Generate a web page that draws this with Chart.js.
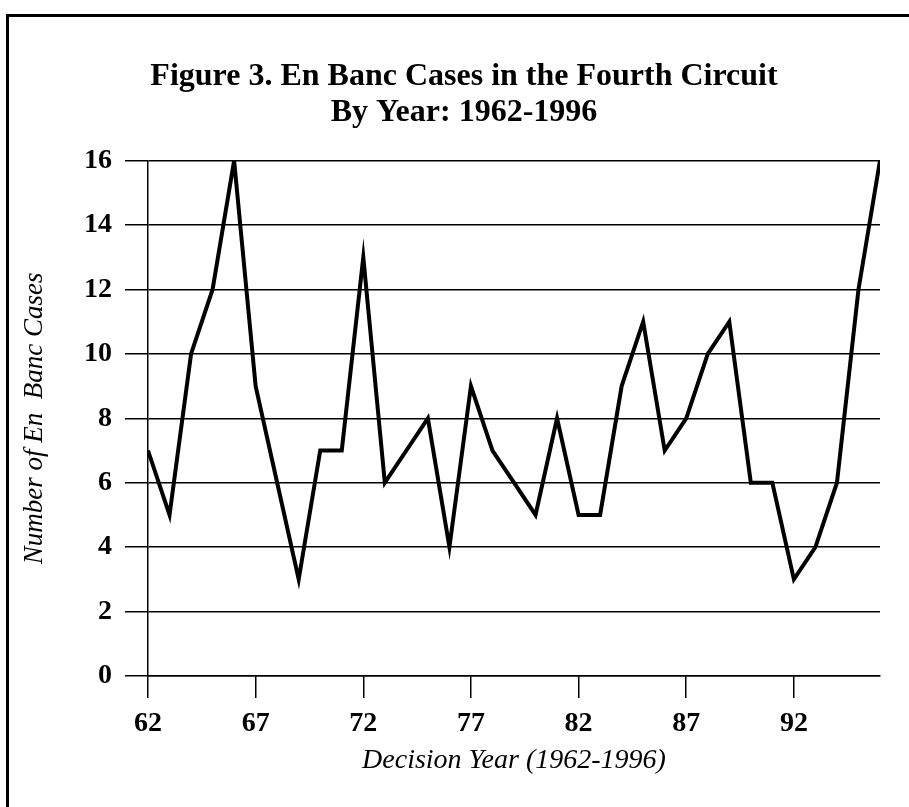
<!DOCTYPE html>
<html>
<head>
<title>En Banc Cases in the Fourth Circuit</title>
<script src="https://cdn.jsdelivr.net/npm/chart.js"></script>
<style>
  body { margin: 0; overflow: hidden; background: #fff; }
  #frame { position: absolute; left: 6px; top: 14px; width: 1000px; height: 1000px;
           border-left: 3px solid #000; border-top: 3px solid #000; }
  #wrap { position: absolute; left: 0; top: 0; width: 909px; height: 807px; }
</style>
</head>
<body>
<div id="frame"></div>
<div id="wrap"><canvas id="chart" width="909" height="807"></canvas></div>
<script>
// decision year (two digits) and number of en banc cases
const years = [62, 63, 64, 65, 66, 67, 68, 69, 70, 71, 72, 73, 74, 75, 76, 77, 78, 79,
               80, 81, 82, 83, 84, 85, 86, 87, 88, 89, 90, 91, 92, 93, 94, 95, 96];
const cases = [7, 5, 10, 12, 16, 9, 6, 3, 7, 7, 13, 6, 7, 8, 4, 9, 7, 6,
               5, 8, 5, 5, 9, 11, 7, 8, 10, 11, 6, 6, 3, 4, 6, 12, 16];
const xTickYears = [62, 67, 72, 77, 82, 87, 92];

const titleLines = ['Figure 3. En Banc Cases in the Fourth Circuit', 'By Year: 1962-1996'];
const xTitle = 'Decision Year (1962-1996)';
const yTitle = 'Number of En  Banc Cases';

const serif = "'Liberation Serif', 'Times New Roman', serif";
Chart.defaults.color = '#000';

// left padding pushes the centred title to the right; the y axis title
// is pulled back out with a negative offset
const padLeft = 48;

new Chart(document.getElementById('chart'), {
  type: 'line',
  data: {
    datasets: [{
      data: years.map((y, i) => ({ x: y, y: cases[i] })),
      borderColor: '#000',
      borderWidth: 4,
      pointRadius: 0,
      tension: 0,
      fill: false
    }]
  },
  options: {
    responsive: false,
    animation: false,
    layout: { padding: { left: padLeft, right: 29, top: 0, bottom: 0 } },
    plugins: {
      legend: { display: false },
      tooltip: { enabled: false },
      title: {
        display: true,
        text: titleLines,
        color: '#000',
        font: { family: serif, size: 32, weight: 'bold', lineHeight: 1.15 },
        padding: { top: 58, bottom: 29 }
      }
    },
    scales: {
      x: {
        type: 'linear',
        min: 62,
        max: 96,
        afterBuildTicks: s => { s.ticks = xTickYears.map(v => ({ value: v })); },
        afterFit: s => { s.height = 131; },
        ticks: {
          font: { family: serif, size: 28, weight: 'bold' },
          color: '#000',
          padding: 9,
          maxRotation: 0,
          callback: v => String(v)
        },
        grid: { drawOnChartArea: false, drawTicks: true, tickLength: 22, color: '#000', lineWidth: 1.5 },
        border: { display: true, color: '#000', width: 1.5 },
        title: {
          display: true,
          text: xTitle,
          color: '#000',
          font: { family: serif, size: 28, style: 'italic' },
          padding: { top: 0, bottom: 30 }
        }
      },
      y: {
        min: 0,
        max: 16,
        afterFit: s => { s.width = 148 - padLeft; },
        ticks: {
          stepSize: 2,
          font: { family: serif, size: 28, weight: 'bold' },
          color: '#000',
          padding: 13
        },
        grid: { color: '#000', lineWidth: 1.5, tickLength: 23 },
        border: { display: true, color: '#000', width: 1.5 },
        title: {
          display: true,
          text: yTitle,
          color: '#000',
          font: { family: serif, size: 27, style: 'italic' },
          padding: { top: 19 - padLeft, bottom: 0 }
        }
      }
    }
  }
});
</script>
</body>
</html>
